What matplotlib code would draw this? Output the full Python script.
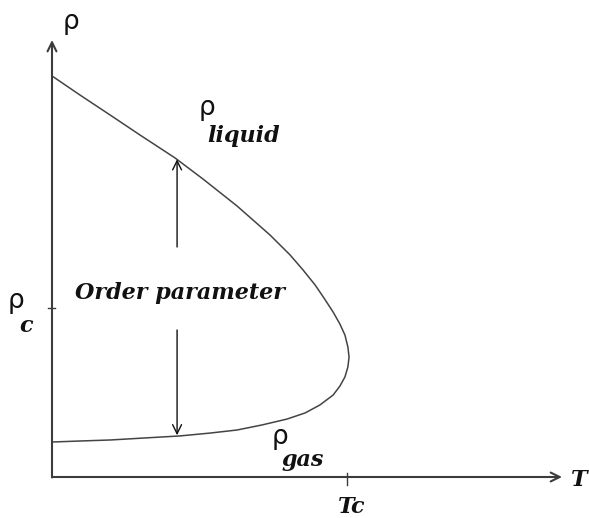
import matplotlib
matplotlib.use('Agg')
import matplotlib.pyplot as plt

# coexistence curve (T in units of Tc, rho in units of rho_c)
T_liquid = [0.000, 0.095, 0.197, 0.298, 0.417, 0.512, 0.627, 0.739, 0.807,
            0.851, 0.892, 0.922, 0.953, 0.976, 0.993, 1.003, 1.007]
rho_liquid = [2.373, 2.260, 2.142, 2.024, 1.888, 1.763, 1.604, 1.432, 1.314,
              1.225, 1.136, 1.059, 0.976, 0.905, 0.840, 0.769, 0.710]
T_gas = [1.003, 0.993, 0.976, 0.953, 0.908, 0.858, 0.797, 0.712, 0.627,
         0.536, 0.434, 0.315, 0.197, 0.095, 0.000]
rho_gas = [0.651, 0.592, 0.538, 0.485, 0.426, 0.379, 0.343, 0.308, 0.278,
           0.260, 0.243, 0.231, 0.219, 0.213, 0.207]

Tc = 1.0
rho_c = 1.0
T_max = 1.729
rho_max = 2.586

# order parameter arrow
T_order = 0.424
rho_top = 1.880
rho_bottom = 0.247
gap_top = 1.361
gap_bottom = 0.870

W, H = 589, 518
fig = plt.figure(figsize=(W / 100, H / 100), dpi=100)
ax = fig.add_axes([0, 0, 1, 1])
ax.axis('off')
ax.set_xlim(-52 / 295, (W - 52) / 295)
ax.set_ylim((477 - H) / 169, 477 / 169)

axis_col = '#3c3c3c'
arrow_style = '->,head_length=0.65,head_width=0.32'

# axes with open arrowheads
ax.annotate('', xy=(T_max, 0), xytext=(0, 0),
            arrowprops=dict(arrowstyle=arrow_style, color=axis_col, lw=1.5,
                            shrinkA=0, shrinkB=0))
ax.annotate('', xy=(0, rho_max), xytext=(0, -0.003),
            arrowprops=dict(arrowstyle=arrow_style, color=axis_col, lw=1.5,
                            shrinkA=0, shrinkB=0))

# ticks at Tc and rho_c
ax.plot([Tc, Tc], [0.024, -0.047], color=axis_col, lw=1.0)
ax.plot([-0.014, 0.010], [rho_c, rho_c], color=axis_col, lw=1.0)

# curve
ax.plot(T_liquid + T_gas, rho_liquid + rho_gas, color='#444444', lw=1.1,
        solid_joinstyle='round')

# order parameter arrows
ax.annotate('', xy=(T_order, rho_top), xytext=(T_order, gap_top),
            arrowprops=dict(arrowstyle=arrow_style, color='#111111', lw=1.0,
                            shrinkA=0, shrinkB=0))
ax.annotate('', xy=(T_order, rho_bottom), xytext=(T_order, gap_bottom),
            arrowprops=dict(arrowstyle=arrow_style, color='#111111', lw=1.0,
                            shrinkA=0, shrinkB=0))

rho_font = dict(family='DejaVu Sans', fontsize=19, color='#111111')
lab_font = dict(family='DejaVu Serif', fontsize=16, weight='bold',
                style='italic', color='#111111')


def put(x, y, s, fnt, ha='left'):
    fig.text(x / W, 1 - y / H, s, ha=ha, va='baseline', **fnt)


put(63, 29, 'ρ', rho_font)
put(8, 308, 'ρ', rho_font)
put(19, 332, 'c', lab_font)
put(199, 115, 'ρ', rho_font)
put(207, 142, 'liquid', lab_font)
put(272, 444, 'ρ', rho_font)
put(281, 466, 'gas', lab_font)
put(180, 299, 'Order parameter', lab_font, ha='center')
put(352, 513, 'Tc', lab_font, ha='center')
put(571, 486, 'T', lab_font)

plt.savefig('out.png', dpi=100)
